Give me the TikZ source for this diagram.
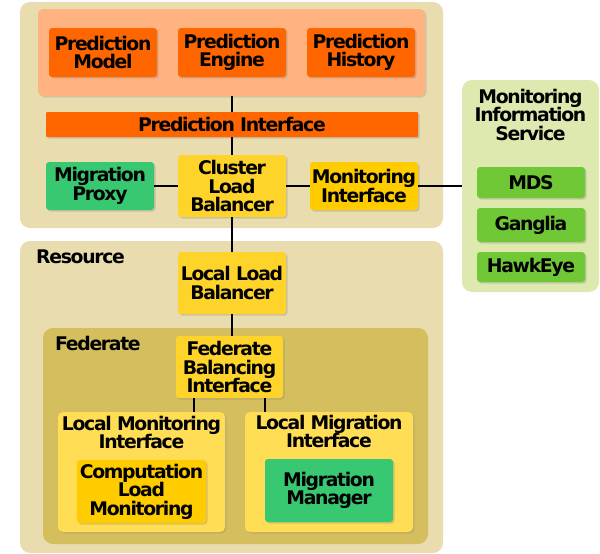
\documentclass[tikz,border=0pt]{standalone}
\usepackage{fontspec}
\setmainfont{DejaVu Sans}[LetterSpace=-7]
\usetikzlibrary{shadows}
\definecolor{beige}{HTML}{E9DDAF}
\definecolor{fedc}{HTML}{D4BE5E}
\definecolor{salmon}{HTML}{FFB380}
\definecolor{orng}{HTML}{FF6600}
\definecolor{ylw}{HTML}{FFD42A}
\definecolor{ylwo}{HTML}{FFCC00}
\definecolor{ylwl}{HTML}{FFDD55}
\definecolor{grn}{HTML}{37C871}
\definecolor{lgrn}{HTML}{71C837}
\definecolor{misbg}{HTML}{DDE9AF}
\tikzset{
  txt/.style={font=\fontsize{18.8}{18.4}\selectfont\bfseries, align=center, text=black},
  grp/.style={rounded corners=10pt, inner sep=0pt},
  sub/.style={rounded corners=5pt, inner sep=0pt, drop shadow={shadow xshift=1.5pt, shadow yshift=-1.5pt, opacity=0.25}},
  box/.style={txt, rounded corners=3pt, inner sep=0pt, drop shadow={shadow xshift=1.5pt, shadow yshift=-1.5pt, opacity=0.3}},
  conn/.style={draw=black, line width=1.4pt},
  lbl/.style={txt, anchor=west, inner sep=0pt}
}
\begin{document}
\begin{tikzpicture}[x=1pt,y=-1pt]
\useasboundingbox (0,0) rectangle (600,554);
% groups
\node[grp, fill=beige, minimum width=423pt, minimum height=226pt] (cluster) at (231.5,115) {};
\node[grp, fill=beige, minimum width=423pt, minimum height=312pt] (resource) at (231.5,397) {};
\node[grp, fill=misbg, minimum width=137pt, minimum height=212pt] (mis) at (530.5,186) {};
\node[sub, fill=salmon, minimum width=387pt, minimum height=87pt] (predgroup) at (231.5,52.5) {};
\node[grp, fill=fedc, minimum width=385pt, minimum height=216pt] (federate) at (235.5,436) {};
% labels
\node[txt, anchor=north, inner sep=0pt] (mistitle) at (530.5,89) {Monitoring\\Information\\Service};
\node[lbl] (reslbl) at (36,257) {Resource};
\node[lbl] (fedlbl) at (55,343) {Federate};
% prediction
\node[box, fill=orng, minimum width=108pt, minimum height=49pt] (pm) at (103,52.5) {Prediction\\Model};
\node[box, fill=orng, minimum width=108pt, minimum height=49pt] (pe) at (232,52.5) {Prediction\\Engine};
\node[box, fill=orng, minimum width=108pt, minimum height=49pt] (ph) at (361,52.5) {Prediction\\History};
\node[box, fill=orng, rounded corners=1pt, minimum width=372pt, minimum height=25pt] (pi) at (232,124.5) {Prediction Interface};
% cluster row
\node[box, fill=grn, minimum width=108pt, minimum height=48pt] (mp) at (100,186) {Migration\\Proxy};
\node[box, fill=ylw, minimum width=108pt, minimum height=62pt] (clb) at (232,186) {Cluster\\Load\\Balancer};
\node[box, fill=ylwo, minimum width=108pt, minimum height=48pt] (mi) at (364,186) {Monitoring\\Interface};
% MIS
\node[box, fill=lgrn, minimum width=108pt, minimum height=31pt] (mds) at (531,182.5) {MDS};
\node[box, fill=lgrn, minimum width=108pt, minimum height=34pt] (gang) at (531,225) {Ganglia};
\node[box, fill=lgrn, minimum width=108pt, minimum height=30pt] (hawk) at (531,267) {HawkEye};
% resource
\node[box, fill=ylw, minimum width=108pt, minimum height=62pt] (llb) at (232,283) {Local Load\\Balancer};
\node[box, fill=ylw, minimum width=107pt, minimum height=62pt] (fbi) at (229.5,367) {Federate\\Balancing\\Interface};
\node[sub, fill=ylwl, minimum width=167pt, minimum height=120pt] (lmi) at (141.5,472) {};
\node[txt, anchor=north, inner sep=0pt] (lmit) at (141.5,416) {Local Monitoring\\Interface};
\node[box, fill=ylwo, minimum width=129pt, minimum height=63pt] (clm) at (141.5,491.5) {Computation\\Load\\Monitoring};
\node[sub, fill=ylwl, minimum width=168pt, minimum height=120pt] (lmgi) at (329,472) {};
\node[txt, anchor=north, inner sep=0pt] (lmgit) at (329,415) {Local Migration\\Interface};
\node[box, fill=grn, minimum width=128pt, minimum height=63pt] (mm) at (329,490.5) {Migration\\Manager};
% connectors
\draw[conn] (pe.south |- predgroup.south) -- (pi.north);
\draw[conn] (pi.south) -- (clb.north);
\draw[conn] (mp.east) -- (clb.west);
\draw[conn] (clb.east) -- (mi.west);
\draw[conn] (mi.east) -- (mis.west);
\draw[conn] (clb.south) -- (llb.north);
\draw[conn] (llb.south) -- (llb.south |- fbi.north);
\draw[conn] ([xshift=-35.5pt]fbi.south) -- ([xshift=-35.5pt]fbi.south |- lmi.north);
\draw[conn] ([xshift=35.5pt]fbi.south) -- ([xshift=35.5pt]fbi.south |- lmgi.north);
\end{tikzpicture}
\end{document}
